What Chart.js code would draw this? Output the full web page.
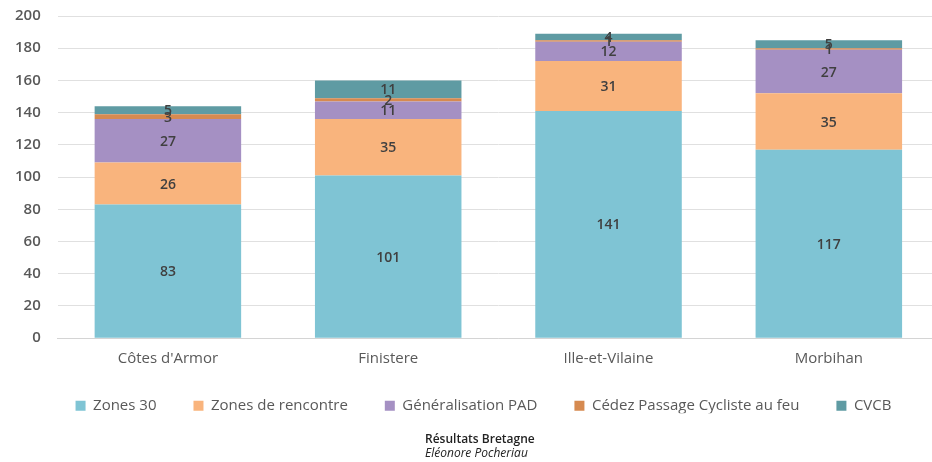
<!DOCTYPE html>
<html>
<head>
<meta charset="utf-8">
<script src="https://cdn.jsdelivr.net/npm/chart.js@4.4.0/dist/chart.umd.min.js"></script>
<style>
  html, body { margin: 0; padding: 0; background: #fff; overflow: hidden; }
  #wrap { width: 946px; height: 472px; position: relative; margin-left: -2px; margin-top: -10px; }
</style>
</head>
<body>
<div id="wrap"><canvas id="c"></canvas></div>
<script>
const categories = ["Côtes d'Armor", "Finistere", "Ille-et-Vilaine", "Morbihan"];
const zones30 = [83, 101, 141, 117];
const zonesRencontre = [26, 35, 31, 35];
const generalisationPAD = [27, 11, 12, 27];
const cedezPassage = [3, 2, 1, 1];
const cvcb = [5, 11, 4, 5];
const seriesNames = ["Zones 30", "Zones de rencontre", "Généralisation PAD", "Cédez Passage Cycliste au feu", "CVCB"];
const yTicks = [0, 20, 40, 60, 80, 100, 120, 140, 160, 180, 200];
const footerTitle = "Résultats Bretagne";
const footerAuthor = "Eléonore Pocheriau";

const colors = ["#7fc4d4", "#f9b47d", "#a590c3", "#d68a50", "#5f9ba3"];
const FONT = "'Open Sans', sans-serif";

const valueLabels = {
  id: 'valueLabels',
  afterDatasetsDraw(chart) {
    const ctx = chart.ctx;
    ctx.save();
    ctx.font = "600 14px " + FONT;
    ctx.fillStyle = "#404040";
    ctx.textAlign = "center";
    ctx.textBaseline = "middle";
    chart.data.datasets.forEach((ds, i) => {
      const meta = chart.getDatasetMeta(i);
      meta.data.forEach((el, j) => {
        const v = ds.data[j];
        if (!v) return;
        const p = el.getProps(['x', 'y', 'base'], true);
        ctx.fillText(String(v), p.x, (p.y + p.base) / 2 + 1);
      });
    });
    ctx.restore();
  }
};

const nudgeBoxes = {
  id: 'nudgeBoxes',
  afterLayout(chart) {
    const lg = chart.legend;
    if (lg) {
      lg.top -= 19; lg.bottom -= 19;
      lg.left += 15; lg.right += 15;
    }
    chart.boxes.forEach(b => {
      if (b.options && (b.options.text === footerTitle || b.options.text === footerAuthor)) {
        b.left = 427; b.right = 700;
      }
    });
  }
};

const sets = [zones30, zonesRencontre, generalisationPAD, cedezPassage, cvcb];
new Chart(document.getElementById('c'), {
  type: 'bar',
  data: {
    labels: categories,
    datasets: sets.map((d, i) => ({
      label: seriesNames[i],
      data: d,
      backgroundColor: colors[i],
      borderWidth: 0,
      barPercentage: 0.665,
      categoryPercentage: 1.0
    }))
  },
  options: {
    responsive: true,
    maintainAspectRatio: false,
    animation: false,
    layout: { padding: { left: 0, right: 5, top: 6, bottom: 1 } },
    scales: {
      x: {
        stacked: true,
        grid: { display: false, drawTicks: false },
        border: { display: true, color: '#d4d4d4' },
        ticks: { color: '#595959', font: { family: FONT, size: 15 }, padding: 12 }
      },
      y: {
        stacked: true,
        min: 0, max: 200,
        afterBuildTicks(axis) { axis.ticks = yTicks.map(v => ({ value: v })); },
        grid: { color: '#e0e0e0', drawTicks: false },
        border: { display: false },
        ticks: { color: '#595959', font: { family: FONT, size: 15, weight: '600' }, padding: 17 }
      }
    },
    plugins: {
      legend: {
        position: 'bottom',
        maxHeight: 52,
        labels: {
          color: '#595959',
          font: { family: FONT, size: 15 },
          boxWidth: 10, boxHeight: 10,
          padding: 37
        }
      },
      title: {
        display: true, position: 'bottom', text: footerTitle, align: 'start',
        color: '#222', font: { family: FONT, size: 12, weight: '600' },
        padding: 0, weight: 1100
      },
      subtitle: {
        display: true, position: 'bottom', text: footerAuthor, align: 'start',
        color: '#222', font: { family: FONT, size: 12, style: 'italic' },
        padding: 0, weight: 1200
      },
      tooltip: { enabled: false }
    }
  },
  plugins: [valueLabels, nudgeBoxes]
});
</script>
</body>
</html>
